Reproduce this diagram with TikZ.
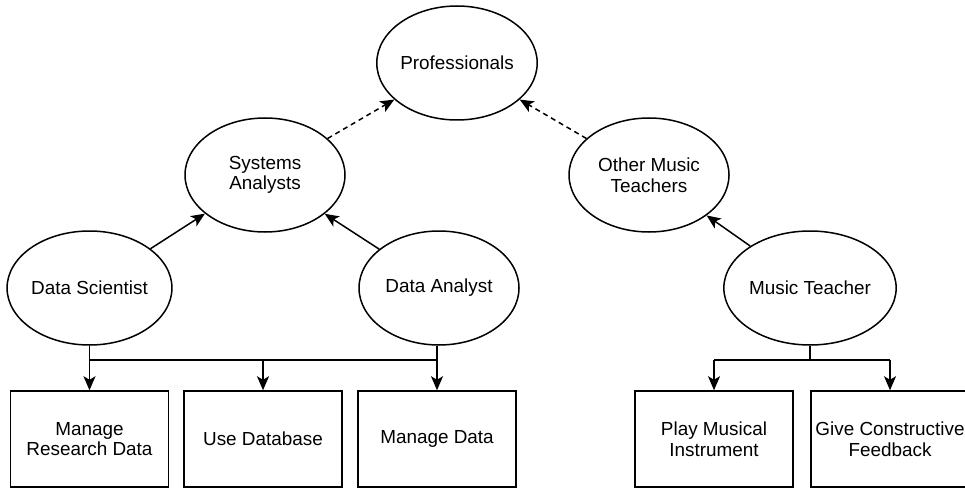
\documentclass[tikz,border=0pt]{standalone}
\usepackage{fontspec}
\setmainfont{Liberation Sans}
\usetikzlibrary{shapes.geometric,arrows.meta,calc}

\tikzset{
  role/.style={ellipse, draw, line width=1.5pt, minimum width=160pt, minimum height=114pt,
    inner sep=0pt, align=center, font=\fontsize{18.9}{20.5}\selectfont},
  task/.style={rectangle, draw, line width=1.5pt, minimum width=158pt, minimum height=96pt,
    inner sep=0pt, align=center, font=\fontsize{18.9}{20.5}\selectfont},
  link/.style={line width=1.5pt, -{Stealth[length=14pt,width=12pt,inset=3.5pt]}},
  wire/.style={line width=1.5pt},
  generalise/.style={link, dash pattern=on 5pt off 4pt}
}

\begin{document}
\begin{tikzpicture}[x=1pt,y=-1pt]
\useasboundingbox (0,0) rectangle (965,489);
\clip (0,0) rectangle (965,489);

% roles
\node[role] (pro) at (457,63)  {Professionals};
\node[role] (sa)  at (265,175) {Systems\\Analysts};
\node[role] (omt) at (649,175) {Other Music\\Teachers};
\node[role] (ds)  at (89.5,288) {Data Scientist};
\node[role] (da)  at (439,288) {Data Analyst};
\node[role] (mt)  at (810,288) {Music Teacher};

% tasks
\node[task] (mrd) at (89.5,439)  {Manage\\Research Data};
\node[task] (udb) at (263,439) {Use Database};
\node[task] (md)  at (437,439) {Manage Data};
\node[task] (pmi) at (714,439) {Play Musical\\Instrument};
\node[task] (gcf) at (890,439) {Give Constructive\\Feedback};

% generalisations
\draw[generalise] (sa) -- (pro);
\draw[generalise] (omt) -- (pro);
\draw[link] (ds) -- (sa);
\draw[link] (da) -- (sa);
\draw[link] (mt) -- (omt);

% task buses
\coordinate (jl) at ($(ds.south)+(0,14)$);
\coordinate (jr) at ($(da.south)+(-2,14)$);
\draw[wire] (ds.south) -- (jl) -- (jr) -- (jr |- da.south);
\draw[link] (jl) -- (mrd.north);
\draw[link] (udb.north |- jl) -- (udb.north);
\draw[link] (jr) -- (md.north);

\coordinate (jm) at ($(mt.south)+(0,14)$);
\draw[wire] (mt.south) -- (jm);
\draw[wire] (pmi.north |- jm) -- (gcf.north |- jm);
\draw[link] (pmi.north |- jm) -- (pmi.north);
\draw[link] (gcf.north |- jm) -- (gcf.north);
\end{tikzpicture}
\end{document}
